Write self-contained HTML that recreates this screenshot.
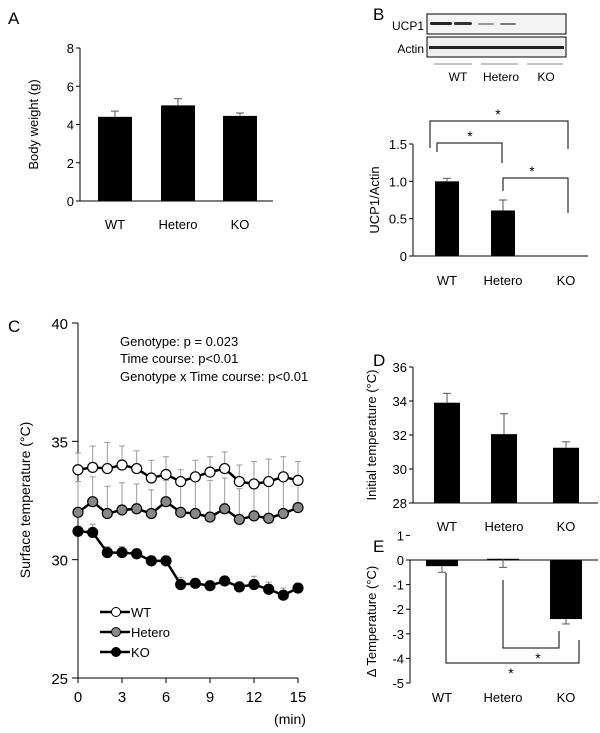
<!DOCTYPE html>
<html><head><meta charset="utf-8"><style>
body{margin:0;background:#fff}
svg{display:block;font-family:"Liberation Sans",sans-serif}
text{fill:#000}
</style></head><body>
<svg id="fig" width="600" height="733" viewBox="0 0 600 733">
<g font-size="17">
<text x="8" y="24">A</text>
<text x="373" y="20">B</text>
<text x="8" y="332">C</text>
<text x="373" y="366">D</text>
<text x="373" y="552">E</text>
</g>
<g>
<rect x="427" y="14" width="139" height="20" fill="#f4f4f4" stroke="#000"/>
<rect x="427" y="37" width="139" height="20" fill="#f0f0f0" stroke="#000"/>
<rect x="430" y="22" width="22" height="3" rx="1.5" fill="#222"/><rect x="454" y="22" width="18" height="3" rx="1.5" fill="#333"/>
<rect x="478" y="23" width="16" height="2" rx="1" fill="#999"/><rect x="500" y="23" width="16" height="2" rx="1" fill="#777"/>
<rect x="429" y="46" width="135" height="3" fill="#222"/>
<text x="424" y="30" font-size="12" text-anchor="end">UCP1</text>
<text x="424" y="53" font-size="12" text-anchor="end">Actin</text>
<g stroke="#888" stroke-width="1"><line x1="434" y1="64" x2="472" y2="64"/><line x1="481" y1="64" x2="518" y2="64"/><line x1="527" y1="64" x2="563" y2="64"/></g>
<g font-size="12" text-anchor="middle"><text x="458" y="81">WT</text><text x="501" y="81">Hetero</text><text x="546" y="81">KO</text></g>
</g>
<g id="charts"></g>
<g font-size="13">
<text x="120" y="346">Genotype: p = 0.023</text>
<text x="120" y="363">Time course: p&lt;0.01</text>
<text x="120" y="381">Genotype x Time course: p&lt;0.01</text>
</g>
</svg>
<script>
const NS='http://www.w3.org/2000/svg';
const root=document.getElementById('charts');
function el(tag,attrs,parent,txt){const e=document.createElementNS(NS,tag);for(const k in attrs)e.setAttribute(k,attrs[k]);if(txt!==undefined)e.textContent=txt;(parent||root).appendChild(e);return e;}

const groups=['WT','Hetero','KO'];
const bodyWeight=[4.4,5.0,4.45];
const bodyWeightErr=[0.3,0.35,0.15];
const bodyTicks=[0,2,4,6,8];
const ucp1=[1.0,0.61,0];
const ucp1Err=[0.04,0.14,0];
const ucp1Ticks=[0,0.5,1.0,1.5];
const ucp1TickLabels=['0','0.5','1.0','1.5'];
const initTemp=[33.9,32.05,31.25];
const initTempErr=[0.55,1.2,0.35];
const initTicks=[28,30,32,34,36];
const deltaTemp=[-0.25,0.05,-2.4];
const deltaErr=[0.25,0.35,0.2];
const deltaTicks=[1,0,-1,-2,-3,-4,-5];
const minutes=[0,1,2,3,4,5,6,7,8,9,10,11,12,13,14,15];
const wtSeries=[33.8,33.9,33.85,34.0,33.85,33.45,33.6,33.3,33.5,33.7,33.85,33.3,33.2,33.3,33.5,33.35];
const wtErr=[0.7,0.9,1.1,0.8,0.75,0.75,0.75,0.5,0.7,0.65,0.7,0.7,0.95,0.95,0.85,0.8];
const heteroSeries=[32.0,32.45,31.95,32.1,32.15,31.95,32.45,32.0,31.95,31.8,32.15,31.7,31.85,31.75,31.95,32.2];
const heteroErr=[1.3,1.05,1.15,1.15,1.05,1.0,0.9,1.3,1.4,1.55,1.3,1.3,1.35,1.5,1.4,1.0];
const koSeries=[31.2,31.15,30.3,30.3,30.25,29.95,29.95,28.95,29.0,28.9,29.1,28.85,28.95,28.75,28.5,28.8];
const koErr=[0.2,0.35,0.25,0.25,0.2,0.2,0.2,0.3,0.2,0.2,0.15,0.2,0.35,0.3,0.3,0.2];
const tempTicks=[25,30,35,40];
const minTicks=[0,3,6,9,12,15];

function lin(d0,d1,r0,r1){return v=>r0+(v-d0)/(d1-d0)*(r1-r0);}

function barChart(o){
  const g=el('g',{});
  
  
  const y=lin(o.dom[0],o.dom[1],o.rng[0],o.rng[1]);
  const top=Math.min(o.rng[0],o.rng[1]),bot=Math.max(o.rng[0],o.rng[1]);
  el('line',{x1:o.ax,y1:top,x2:o.ax,y2:bot,stroke:'#000'},g);
  o.ticks.forEach((t,i)=>{const ty=y(t);
    el('line',{x1:o.ax-4,y1:ty,x2:o.ax,y2:ty,stroke:'#000'},g);
    const tl=el('text',{x:o.ax-6,y:ty+5,'font-size':13,'text-anchor':'end'},g,o.tickLabels?o.tickLabels[i]:String(t));
    
    });
  const base=y(o.base);
  el('line',{x1:o.ax,y1:base,x2:o.axEnd,y2:base,stroke:'#000'},g);
  o.vals.forEach((v,i)=>{
    const cx=o.cx[i],yv=y(v);
    const b=el('rect',{x:cx-o.bw/2,y:Math.min(yv,base),width:o.bw,height:Math.abs(base-yv),fill:'#000'},g);
    
    
    if(o.err[i]>0){const dir=(o.errDown&&o.errDown[i])?-1:1;
      const ey=y(v+dir*o.err[i]);
      el('line',{x1:cx,y1:yv,x2:cx,y2:ey,stroke:'#555'},g);
      el('line',{x1:cx-4,y1:ey,x2:cx+4,y2:ey,stroke:'#555'},g);}
    const xl=el('text',{x:o.lx[i],y:o.ly,'font-size':13,'text-anchor':'middle'},g,groups[i]);
    
    
  });
  const t=el('text',{transform:`translate(${o.tx},${(top+bot)/2}) rotate(-90)`,'font-size':13,'text-anchor':'middle'},g,o.title);
  
  
  return {g,y};
}

barChart({name:'body-weight-chart',dom:[0,8],rng:[201,48],ax:80,axEnd:273,base:0,ticks:bodyTicks,vals:bodyWeight,err:bodyWeightErr,cx:[115,178,240],bw:34,lx:[115,178,240],ly:229,tx:38,title:'Body weight (g)'});
barChart({name:'ucp1-chart',dom:[0,1.5],rng:[256,144],ax:413,axEnd:588,base:0,ticks:ucp1Ticks,tickLabels:ucp1TickLabels,vals:ucp1,err:ucp1Err,cx:[447,503,566],bw:24,lx:[447,503,566],ly:285,tx:379,title:'UCP1/Actin'});
barChart({name:'initial-temp-chart',dom:[28,36],rng:[503,367],ax:413,axEnd:598,base:28,ticks:initTicks,vals:initTemp,err:initTempErr,cx:[447,504,566],bw:26,lx:[447,504,566],ly:531,tx:376,title:'Initial temperature (°C)'});
barChart({name:'delta-temp-chart',dom:[0,-5],rng:[560,683],ax:410,axEnd:598,base:0,ticks:deltaTicks,vals:deltaTemp,err:deltaErr,errDown:[1,1,1],cx:[442,503,566],bw:32,lx:[442,503,566],ly:702,tx:376,title:'Δ Temperature (°C)'});

function bracket(pts,sx,sy,name){const g=el('g',{});
  
  
  el('polyline',{points:pts,fill:'none',stroke:'#000'},g);
  el('text',{x:sx,y:sy,'font-size':14,'text-anchor':'middle'},g,'*');}
bracket('430,148 430,121 568,121 568,149',498,119,'sig-wt-ko');
bracket('437,152 437,143 502,143 502,163',470,141,'sig-wt-hetero');
bracket('503,191 503,178 568,178 568,213',532,176,'sig-hetero-ko');
bracket('503,580 503,648 559,648 559,631',538,663,'sig-e-hetero-ko');
bracket('446,573 446,663 579,663 579,640',511,678,'sig-e-wt-ko');

(function(){
  const g=el('g',{});
  
  
  const x=lin(0,15,78,298), y=lin(25,40,678,323);
  el('line',{x1:78,y1:323,x2:78,y2:678,stroke:'#000'},g);
  el('line',{x1:78,y1:678,x2:298,y2:678,stroke:'#000'},g);
  tempTicks.forEach(t=>{el('line',{x1:72,y1:y(t),x2:78,y2:y(t),stroke:'#000'},g);
    const l=el('text',{x:68,y:y(t)+6,'font-size':15,'text-anchor':'end'},g,String(t));
    
    });
  minTicks.forEach(t=>{el('line',{x1:x(t),y1:678,x2:x(t),y2:683,stroke:'#000'},g);
    const l=el('text',{x:x(t),y:702,'font-size':15,'text-anchor':'middle'},g,String(t));
    
    });
  el('text',{x:290,y:724,'font-size':14,'text-anchor':'middle'},g,'(min)');
  const yt=el('text',{transform:'translate(30,500) rotate(-90)','font-size':14,'text-anchor':'middle'},g,'Surface temperature (°C)');
  
  
  const series=[[wtSeries,wtErr,'#fff','wt'],[heteroSeries,heteroErr,'#888','hetero'],[koSeries,koErr,'#000','ko']];
  series.forEach(([vals,errs])=>vals.forEach((v,i)=>{const ey=y(v+errs[i]);
    el('line',{x1:x(minutes[i]),y1:y(v),x2:x(minutes[i]),y2:ey,stroke:'#999'},g);
    el('line',{x1:x(minutes[i])-3,y1:ey,x2:x(minutes[i])+3,y2:ey,stroke:'#999'},g);}));
  series.forEach(([vals,errs,fill,nm])=>{
    const s=el('g',{},g);
    
    
    el('polyline',{points:vals.map((v,i)=>x(minutes[i])+','+y(v)).join(' '),fill:'none',stroke:'#000','stroke-width':2.5},s);
    vals.forEach((v,i)=>{const c=el('circle',{cx:x(minutes[i]),cy:y(v),r:5,fill:fill,stroke:'#000','stroke-width':1.2},s);
      
      });
  });
  const lg=el('g',{},g);
  
  
  [['WT','#fff',612],['Hetero','#888',632],['KO','#000',652]].forEach(([n,f,ly])=>{
    const e=el('g',{},lg);
    
    
    el('line',{x1:100,y1:ly,x2:130,y2:ly,stroke:'#000','stroke-width':2.5},e);
    el('circle',{cx:116,cy:ly,r:4.5,fill:f,stroke:'#000'},e);
    el('text',{x:131,y:ly+5,'font-size':13},e,n);
  });
})();
</script>
</body></html>
